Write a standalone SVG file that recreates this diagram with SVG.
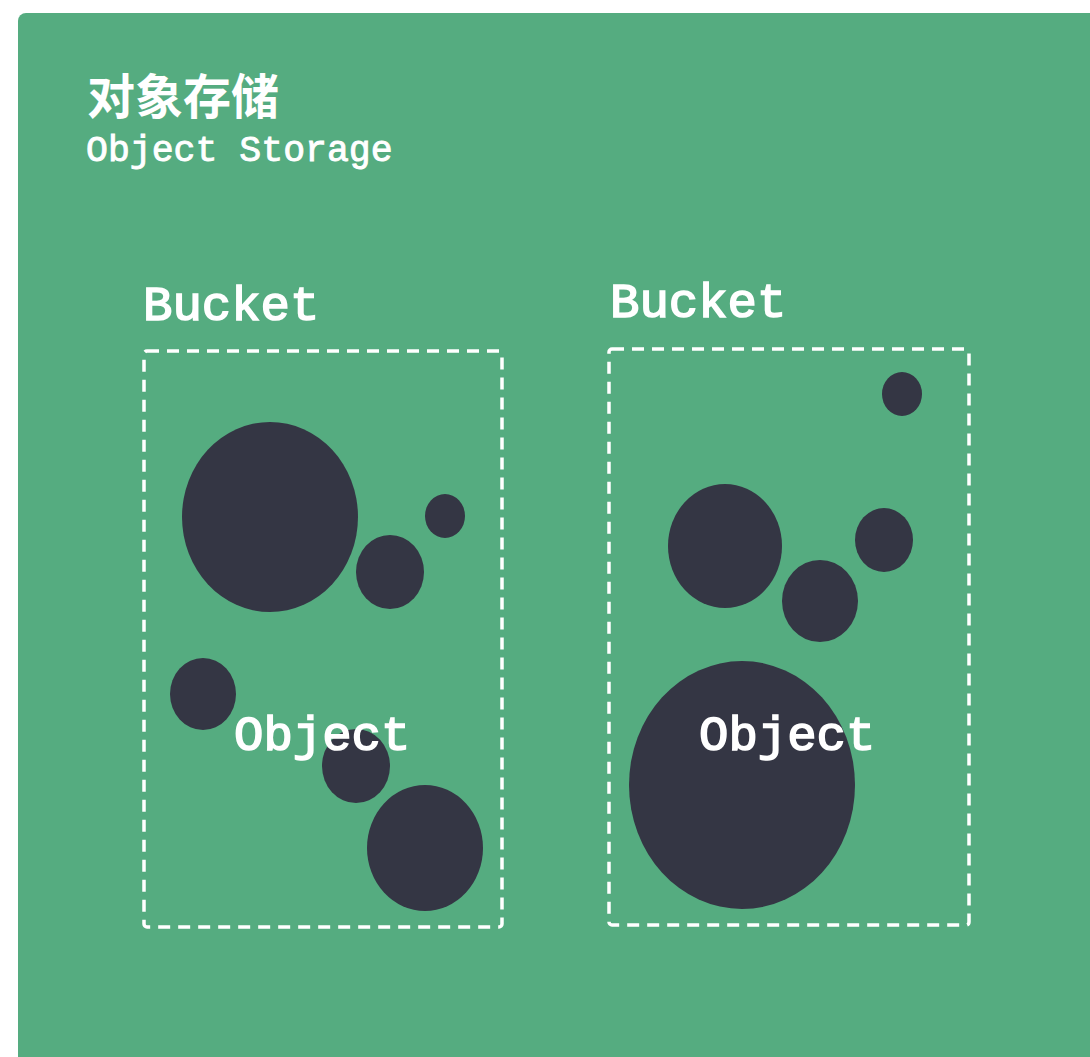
<svg xmlns="http://www.w3.org/2000/svg" width="1090" height="1057" viewBox="0 0 1090 1057">
<style>
.bg{fill:#55ac80;}
.obj{fill:#343644;}
.frame{fill:none;stroke:#ffffff;stroke-width:3.5;stroke-dasharray:12 8;}
.mono{font-family:"Liberation Mono","Courier New",monospace;fill:#ffffff;stroke:#ffffff;}
.big{font-size:49px;stroke-width:1.6;}
.sub{font-size:36.5px;stroke-width:0.9;}
.title{font-family:"Noto Sans CJK SC","Noto Sans",sans-serif;font-weight:bold;font-size:48px;fill:#ffffff;}
</style>
<rect width="1090" height="1057" fill="#ffffff"/>
<rect id="storage" class="bg" x="18" y="13" width="1100" height="1070" rx="8"/>
<g id="header">
<text class="title" x="87" y="114">对象存储</text>
<text class="mono sub" x="86" y="161">Object Storage</text>
</g>
<g id="bucket1">
<text class="mono big" x="143" y="320">Bucket</text>
<rect class="frame" x="144" y="351" width="358" height="576" rx="3"/>
<ellipse class="obj" cx="270" cy="517" rx="88" ry="95"/>
<ellipse class="obj" cx="390" cy="572" rx="34" ry="37"/>
<ellipse class="obj" cx="445" cy="516" rx="20" ry="22"/>
<ellipse class="obj" cx="203" cy="694" rx="33" ry="36"/>
<ellipse class="obj" cx="356" cy="766" rx="34" ry="37"/>
<ellipse class="obj" cx="425" cy="848" rx="58" ry="63"/>
<text class="mono big" x="234" y="750">Object</text>
</g>
<g id="bucket2">
<text class="mono big" x="610" y="317">Bucket</text>
<rect class="frame" x="609" y="349" width="360" height="576" rx="3"/>
<ellipse class="obj" cx="902" cy="394" rx="20" ry="22"/>
<ellipse class="obj" cx="725" cy="546" rx="57" ry="62"/>
<ellipse class="obj" cx="884" cy="540" rx="29" ry="32"/>
<ellipse class="obj" cx="820" cy="601" rx="38" ry="41"/>
<ellipse class="obj" cx="742" cy="785" rx="113" ry="124"/>
<text class="mono big" x="699" y="750">Object</text>
</g>
<g id="connectors"/>
</svg>
